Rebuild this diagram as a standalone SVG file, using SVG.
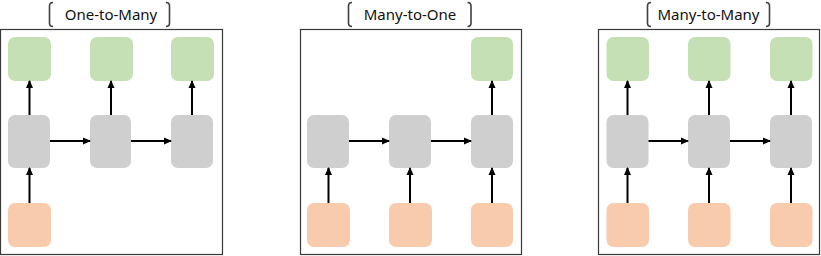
<svg xmlns="http://www.w3.org/2000/svg" width="821" height="256" viewBox="0 0 821 256">
<style>
.frame{fill:#fff;stroke:#3a3a3a;stroke-width:1.2}
.g{fill:#c5e0b4}
.h{fill:#d0cfd0}
.o{fill:#f8cbad}
.br{fill:none;stroke:#404040;stroke-width:1.6}
.t{font-family:"Noto Sans","Liberation Sans",sans-serif;font-size:15px;fill:#111;text-anchor:middle}
.c line{stroke:#000;stroke-width:2;marker-end:url(#ah)}
</style>
<defs>
<marker id="ah" markerWidth="8" markerHeight="8" refX="7" refY="4" orient="auto" markerUnits="userSpaceOnUse">
<path d="M0,0.5 L8,4 L0,7.5 Z" fill="#000"/>
</marker>
</defs>
<rect width="821" height="256" fill="#fff"/>

<!-- Panel 1: One-to-Many -->
<g id="panel1">
<rect class="frame" x="0.5" y="29.5" width="222" height="225"/>
<path class="br" d="M53,2.5 Q49.5,2.5 49.5,6 L49.5,23 Q49.5,26.5 53,26.5"/>
<path class="br" d="M166,2.5 Q169.5,2.5 169.5,6 L169.5,23 Q169.5,26.5 166,26.5"/>
<text class="t" x="111" y="20">One-to-Many</text>
</g>
<g id="p1-y1"><rect class="g" x="8" y="37" width="43" height="44" rx="7"/></g>
<g id="p1-y2"><rect class="g" x="90" y="37" width="43" height="44" rx="7"/></g>
<g id="p1-y3"><rect class="g" x="171" y="37" width="43" height="44" rx="7"/></g>
<g id="p1-h1"><rect class="h" x="8" y="115" width="42" height="53" rx="7"/></g>
<g id="p1-h2"><rect class="h" x="90" y="115" width="41" height="53" rx="7"/></g>
<g id="p1-h3"><rect class="h" x="171" y="115" width="42" height="53" rx="7"/></g>
<g id="p1-x1"><rect class="o" x="8" y="203" width="43" height="44" rx="7"/></g>

<!-- Panel 2: Many-to-One -->
<g id="panel2">
<rect class="frame" x="300.5" y="29.5" width="221" height="225"/>
<path class="br" d="M352,2.5 Q348.5,2.5 348.5,6 L348.5,23 Q348.5,26.5 352,26.5"/>
<path class="br" d="M467.5,2.5 Q471,2.5 471,6 L471,23 Q471,26.5 467.5,26.5"/>
<text class="t" x="410" y="20">Many-to-One</text>
</g>
<g id="p2-y3"><rect class="g" x="471" y="37" width="42" height="44" rx="7"/></g>
<g id="p2-h1"><rect class="h" x="307" y="115" width="42" height="53" rx="7"/></g>
<g id="p2-h2"><rect class="h" x="389" y="115" width="42" height="53" rx="7"/></g>
<g id="p2-h3"><rect class="h" x="471" y="115" width="42" height="53" rx="7"/></g>
<g id="p2-x1"><rect class="o" x="307" y="203" width="43" height="44" rx="7"/></g>
<g id="p2-x2"><rect class="o" x="389" y="203" width="43" height="44" rx="7"/></g>
<g id="p2-x3"><rect class="o" x="471" y="203" width="42" height="44" rx="7"/></g>

<!-- Panel 3: Many-to-Many -->
<g id="panel3">
<rect class="frame" x="598.5" y="29.5" width="221" height="225"/>
<path class="br" d="M651,2.5 Q647.5,2.5 647.5,6 L647.5,23 Q647.5,26.5 651,26.5"/>
<path class="br" d="M766,2.5 Q769.5,2.5 769.5,6 L769.5,23 Q769.5,26.5 766,26.5"/>
<text class="t" x="708.5" y="20">Many-to-Many</text>
</g>
<g id="p3-y1"><rect class="g" x="606.5" y="37" width="42.5" height="44" rx="7"/></g>
<g id="p3-y2"><rect class="g" x="688" y="37" width="42.5" height="44" rx="7"/></g>
<g id="p3-y3"><rect class="g" x="770" y="37" width="42.5" height="44" rx="7"/></g>
<g id="p3-h1"><rect class="h" x="606.5" y="115" width="42" height="53" rx="7"/></g>
<g id="p3-h2"><rect class="h" x="688" y="115" width="42" height="53" rx="7"/></g>
<g id="p3-h3"><rect class="h" x="770" y="115" width="42" height="53" rx="7"/></g>
<g id="p3-x1"><rect class="o" x="606.5" y="203" width="42.5" height="44" rx="7"/></g>
<g id="p3-x2"><rect class="o" x="688" y="203" width="42.5" height="44" rx="7"/></g>
<g id="p3-x3"><rect class="o" x="770" y="203" width="42.5" height="44" rx="7"/></g>

<g id="connectors" class="c">
<!-- panel 1 -->
<line x1="29.5" y1="115" x2="29.5" y2="81"/>
<line x1="111" y1="115" x2="111" y2="81"/>
<line x1="192" y1="115" x2="192" y2="81"/>
<line x1="29.5" y1="203" x2="29.5" y2="168"/>
<line x1="50" y1="141" x2="90" y2="141"/>
<line x1="131" y1="141" x2="171" y2="141"/>
<!-- panel 2 -->
<line x1="492" y1="115" x2="492" y2="81"/>
<line x1="328.5" y1="203" x2="328.5" y2="168"/>
<line x1="410" y1="203" x2="410" y2="168"/>
<line x1="492" y1="203" x2="492" y2="168"/>
<line x1="349" y1="141" x2="389" y2="141"/>
<line x1="431" y1="141" x2="471" y2="141"/>
<!-- panel 3 -->
<line x1="627.5" y1="115" x2="627.5" y2="81"/>
<line x1="709" y1="115" x2="709" y2="81"/>
<line x1="791" y1="115" x2="791" y2="81"/>
<line x1="627.5" y1="203" x2="627.5" y2="168"/>
<line x1="709" y1="203" x2="709" y2="168"/>
<line x1="791" y1="203" x2="791" y2="168"/>
<line x1="648.5" y1="141" x2="688" y2="141"/>
<line x1="730" y1="141" x2="770" y2="141"/>
</g>
</svg>
